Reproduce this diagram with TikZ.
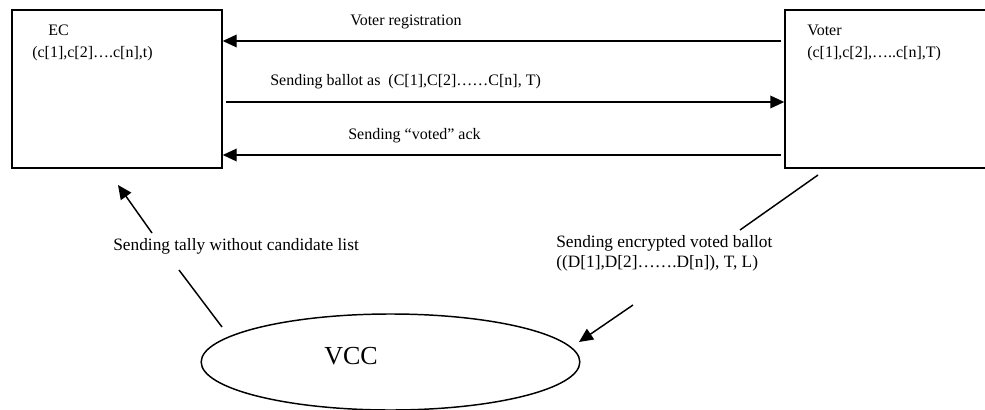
\documentclass[tikz,border=0pt]{standalone}
\usepackage{fontspec}
\setmainfont{Liberation Serif}
\usetikzlibrary{arrows.meta,shapes.geometric}

\tikzset{
  party/.style={draw, line width=1.1pt, minimum width=157.5pt, minimum height=118.5pt, inner sep=0pt},
  msg/.style={-{Triangle[length=10.5pt,width=9.5pt]}, line width=1.1pt},
  wire/.style={line width=1.1pt},
  lbl/.style={font=\fontsize{12}{15}\selectfont, inner sep=0pt},
  biglbl/.style={font=\fontsize{13}{15}\selectfont, inner sep=0pt},
}

\begin{document}
\begin{tikzpicture}[x=0.75pt,y=-0.75pt]
      \useasboundingbox (0,0) rectangle (985,410);
      % the three parties
      \node[party] (ec) at (117,89) {};
      \node[party] (voter) at (890,89) {};
      \node[ellipse, draw, line width=1.1pt, minimum width=284pt, minimum height=72pt, inner sep=0pt] (vcc) at (390.5,362) {};
      \node[lbl, font=\fontsize{19.5}{22}\selectfont] (vcctext) at (351,356) {VCC};
      \node[lbl, anchor=base west] (ectitle) at (48,36) {EC};
      \node[lbl, anchor=base west] (ecvars) at (32,58) {(c[1],c[2]….c[n],t)};
      \node[lbl, anchor=base west] (votertitle) at (807,36) {Voter};
      \node[lbl, anchor=base west] (votervars) at (807,58) {(c[1],c[2],…..c[n],T)};
      % messages between EC and voter
      \begin{scope}[shorten <=2.5pt]
        \draw[msg] ([yshift=36pt]voter.west) to ([yshift=36pt]ec.east);
        \draw[msg] ([yshift=-9.75pt]ec.east) to ([yshift=-9.75pt]voter.west);
        \draw[msg] ([yshift=-49.5pt]voter.west) to ([yshift=-49.5pt]ec.east);
      \end{scope}
      \node[lbl, anchor=base west] (reglbl) at (350,26) {Voter registration};
      \node[lbl, anchor=base west] (ballotlbl) at (270,86) {Sending ballot as \ (C[1],C[2]……C[n], T)};
      \node[lbl, anchor=base west] (acklbl) at (348,139) {Sending “voted” ack};
      % tally from VCC to EC
      \coordinate (tallytail) at (222,327);
      \coordinate (tallybreak) at (179,270);
      \coordinate (tallyresume) at (152,233);
      \coordinate (tallytip) at (118,185);
      \draw[wire] (tallytail) to (tallybreak);
      \draw[msg] (tallyresume) to (tallytip);
      \node[biglbl, anchor=base west] (tallylbl) at (113,250) {Sending tally without candidate list};
      % encrypted ballot from voter to VCC
      \coordinate (enctail) at (818,175);
      \coordinate (encbreak) at (740,230);
      \coordinate (encresume) at (633,305);
      \coordinate (enctip) at (579,342);
      \draw[wire] (enctail) to (encbreak);
      \draw[msg] (encresume) to (enctip);
      \node[biglbl, anchor=base west] (enclbl) at (556,247) {Sending encrypted voted ballot};
      \node[biglbl, anchor=base west] (encvars) at (556,267) {((D[1],D[2]…….D[n]), T, L)};
    \end{tikzpicture}
\end{document}
